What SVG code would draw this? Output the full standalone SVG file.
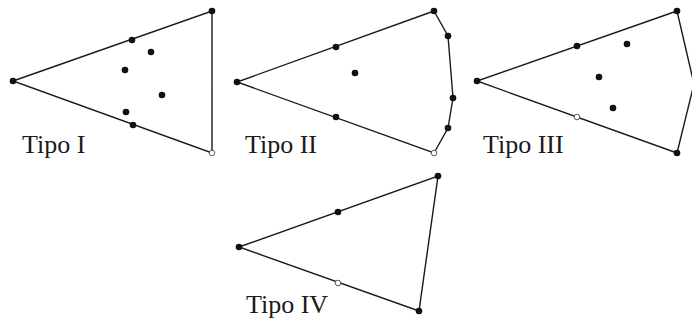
<svg xmlns="http://www.w3.org/2000/svg" width="692" height="323" viewBox="0 0 692 323">
<style>
.e{fill:none;stroke:#1a1a1a;stroke-width:1.4}
.d{fill:#111}
.h{fill:#fff;stroke:#333;stroke-width:0.8}
.t{font-family:"Liberation Serif","Times New Roman",serif;font-size:26px;fill:#1a1a1a}
</style>
<rect width="692" height="323" fill="#fff"/>
<g id="connectors">
<polygon class="e" points="13,81 212,11 212,153"/>
<polyline class="e" points="434,11 448,36 453,98 448,128 434,153 237,82 434,11"/>
<polyline class="e" points="677,11 694,84 677,153 477,81 677,11"/>
<polygon class="e" points="239,247 438,176 419,311"/>
</g>
<g id="tipo1">
<circle class="d" cx="13" cy="81" r="3.3"/>
<circle class="d" cx="212" cy="11" r="3.3"/>
<circle class="h" cx="212" cy="153" r="2.8"/>
<circle class="d" cx="132" cy="40" r="3.3"/>
<circle class="d" cx="133" cy="125" r="3.3"/>
<circle class="d" cx="151" cy="52" r="3.3"/>
<circle class="d" cx="125" cy="70" r="3.3"/>
<circle class="d" cx="162" cy="95" r="3.3"/>
<circle class="d" cx="126" cy="112" r="3.3"/>
<text class="t" x="22" y="153">Tipo I</text>
</g>
<g id="tipo2">
<circle class="d" cx="237" cy="82" r="3.3"/>
<circle class="d" cx="434" cy="11" r="3.3"/>
<circle class="d" cx="336" cy="47" r="3.3"/>
<circle class="d" cx="355" cy="73" r="3.3"/>
<circle class="d" cx="336" cy="117" r="3.3"/>
<circle class="d" cx="448" cy="36" r="3.3"/>
<circle class="d" cx="453" cy="98" r="3.3"/>
<circle class="d" cx="448" cy="128" r="3.3"/>
<circle class="h" cx="434" cy="153" r="2.8"/>
<text class="t" x="245" y="153">Tipo II</text>
</g>
<g id="tipo3">
<circle class="d" cx="477" cy="81" r="3.3"/>
<circle class="d" cx="677" cy="11" r="3.3"/>
<circle class="d" cx="677" cy="153" r="3.3"/>
<circle class="d" cx="577" cy="46" r="3.3"/>
<circle class="h" cx="577" cy="117" r="2.8"/>
<circle class="d" cx="627" cy="44" r="3.3"/>
<circle class="d" cx="599" cy="77" r="3.3"/>
<circle class="d" cx="613" cy="108" r="3.3"/>
<text class="t" x="483" y="153">Tipo III</text>
</g>
<g id="tipo4">
<circle class="d" cx="239" cy="247" r="3.3"/>
<circle class="d" cx="438" cy="176" r="3.3"/>
<circle class="d" cx="419" cy="311" r="3.3"/>
<circle class="d" cx="338" cy="212" r="3.3"/>
<circle class="h" cx="338" cy="283" r="2.8"/>
<text class="t" x="246" y="313">Tipo IV</text>
</g>
</svg>
